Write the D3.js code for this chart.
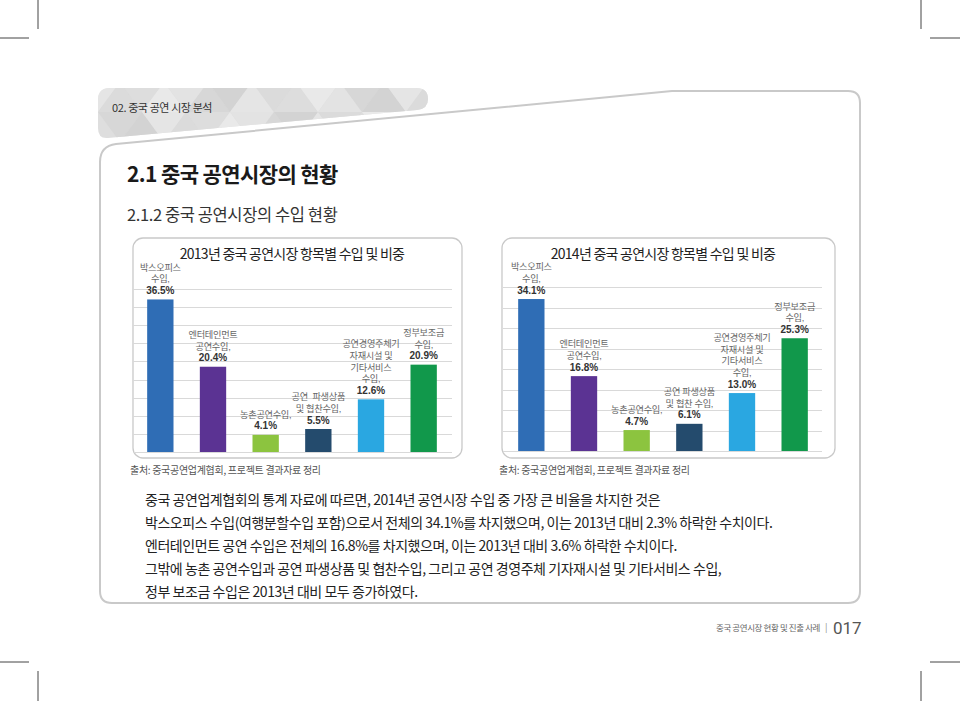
<!DOCTYPE html>
<html><head><meta charset="utf-8">
<script src="https://cdn.jsdelivr.net/npm/d3@7"></script>
<style>
html,body{margin:0;padding:0;background:#fff;}
svg{display:block;font-family:"Noto Sans CJK KR","Noto Sans",sans-serif;}
</style></head>
<body>
<svg id="page" width="960" height="701"></svg>
<script>
// ---------- data ----------
const categories = ["box","ent","rural","merch","venue","gov"];
const values2013 = [36.5, 20.4, 4.1, 5.5, 12.6, 20.9];
const values2014 = [34.1, 16.8, 4.7, 6.1, 13.0, 25.3];
const pctLabels2013 = ["36.5%","20.4%","4.1%","5.5%","12.6%","20.9%"];
const pctLabels2014 = ["34.1%","16.8%","4.7%","6.1%","13.0%","25.3%"];
const nameLines2013 = [["박스오피스","수입,"],["엔터테인먼트","공연수입,"],["농촌공연수입,"],["공연  파생상품","및 협찬수입,"],["공연경영주체기","자재시설 및","기타서비스","수입,"],["정부보조금","수입,"]];
const nameLines2014 = [["박스오피스","수입,"],["엔터테인먼트","공연수입,"],["농촌공연수입,"],["공연 파생상품","및 협찬 수입,"],["공연경영주체기","자재시설 및","기타서비스","수입,"],["정부보조금","수입,"]];
const barColors = ["#2f6db5","#5b3393","#8cc43f","#244b6d","#2aa7e1","#11984b"];
const chartTitles = ["2013년 중국 공연시장 항목별 수입 및 비중","2014년 중국 공연시장 항목별 수입 및 비중"];
const gridMax = [39, 36.8];
const gridCount = [9, 8];
const sourceText = "출처: 중국공연업계협회, 프로젝트 결과자료 정리";
const bodyLines = [
 "중국 공연업계협회의 통계 자료에 따르면, 2014년 공연시장 수입 중 가장 큰 비율을 차지한 것은",
 "박스오피스 수입(여행분할수입 포함)으로서 전체의 34.1%를 차지했으며, 이는 2013년 대비 2.3% 하락한 수치이다.",
 "엔터테인먼트 공연 수입은 전체의 16.8%를 차지했으며, 이는 2013년 대비 3.6% 하락한 수치이다.",
 "그밖에 농촌 공연수입과 공연 파생상품 및 협찬수입, 그리고 공연 경영주체 기자재시설 및 기타서비스 수입,",
 "정부 보조금 수입은 2013년 대비 모두 증가하였다."
];

const svg = d3.select("#page");

// ---------- crop marks ----------
const marks = [[38,0,38,29],[0,38,29,38],[921,0,921,29],[930,38,960,38],[0,662,29,662],[38,671,38,701],[930,662,960,662],[921,671,921,701]];
svg.append("g").selectAll("line").data(marks).join("line")
  .attr("x1",d=>d[0]).attr("y1",d=>d[1]).attr("x2",d=>d[2]).attr("y2",d=>d[3])
  .attr("stroke","#444").attr("stroke-width",1);

// ---------- banner ----------
const defs = svg.append("defs");
const bannerPath = "M110,88 L416,88 Q428,88 428,99 Q428,109 417,110 L108,138 Q98,139 98,128 L98,100 Q98,88 110,88 Z";
defs.append("clipPath").attr("id","bclip").append("path").attr("d",bannerPath);
const bg = svg.append("g");
bg.append("path").attr("d",bannerPath).attr("fill","#dedede");
const tri = bg.append("g").attr("clip-path","url(#bclip)");
const triW = 44, triH = 30;
const shades = ["#e6e6e6","#d4d4d4","#ebebeb","#d9d9d9","#d0d0d0","#e3e3e3","#dcdcdc"];
let k = 0;
for (let row = 0; row < 2; row++) {
  for (let i = -1; i < 18; i++) {
    const x0 = 98 + i*triW/2 + (row%2)*triW/2, y0 = 82 + row*triH;
    const up = (i % 2 === 0);
    const pts = up ? [[x0,y0+triH],[x0+triW/2,y0],[x0+triW,y0+triH]] : [[x0,y0],[x0+triW,y0],[x0+triW/2,y0+triH]];
    tri.append("path").attr("d","M"+pts.map(p=>p.join(",")).join("L")+"Z")
      .attr("fill",shades[(k++*3)%shades.length]).attr("opacity",0.8);
  }
}
bg.append("text").attr("x",112).attr("y",112).attr("font-size",11).attr("fill","#333")
  .attr("letter-spacing","-0.4").text("02. 중국 공연 시장 분석");

// ---------- frame ----------
svg.append("path")
  .attr("d","M100,590 L100,162 Q100,146 116,144 L672,91 L848,91 Q860,91 860,103 L860,591 Q860,603 848,603 L112,603 Q100,603 100,591 Z")
  .attr("fill","none").attr("stroke","#c9c9c9").attr("stroke-width",2);

// ---------- headings ----------
svg.append("text").attr("x",127).attr("y",182).attr("font-size",21).attr("font-weight",700)
  .attr("fill","#1a1a1a").attr("letter-spacing","-0.6").text("2.1 중국 공연시장의 현황");
svg.append("text").attr("x",127).attr("y",221).attr("font-size",16.5)
  .attr("fill","#333").attr("letter-spacing","-0.4").text("2.1.2 중국 공연시장의 수입 현황");

// ---------- charts ----------
const panels = [
  {box:[133,238,462,458], xr:[134,450], base:452, top:289, values:values2013, pct:pctLabels2013, names:nameLines2013, gx:[133,452], titleX:292},
  {box:[502,238,835,458], xr:[505,821], base:451, top:287, values:values2014, pct:pctLabels2014, names:nameLines2014, gx:[503,822], titleX:663}
];
const LH = 11.6;
panels.forEach((p,pi)=>{
  const g = svg.append("g");
  g.append("rect").attr("x",p.box[0]).attr("y",p.box[1]).attr("width",p.box[2]-p.box[0]).attr("height",p.box[3]-p.box[1])
    .attr("rx",10).attr("fill","#fff").attr("stroke","#c9c9c9").attr("stroke-width",1.3);
  const x = d3.scaleBand().domain(categories).range(p.xr).paddingInner(0.5).paddingOuter(0.25);
  const y = d3.scaleLinear().domain([0,gridMax[pi]]).range([p.base,p.top]);
  const ticks = d3.range(gridCount[pi]+1).map(i=>i*gridMax[pi]/gridCount[pi]);
  g.append("g").selectAll("line").data(ticks).join("line")
    .attr("x1",p.gx[0]).attr("x2",p.gx[1]).attr("y1",d=>Math.round(y(d))+0.5).attr("y2",d=>Math.round(y(d))+0.5)
    .attr("stroke","#d9d9d9").attr("stroke-width",1);
  g.append("g").selectAll("rect").data(p.values).join("rect")
    .attr("x",(d,i)=>x(categories[i])).attr("width",x.bandwidth())
    .attr("y",d=>y(d)).attr("height",d=>y(0)-y(d))
    .attr("fill",(d,i)=>barColors[i]);
  g.append("text").attr("x",p.titleX).attr("y",259).attr("text-anchor","middle")
    .attr("font-size",14).attr("fill","#222").attr("letter-spacing","-0.75").text(chartTitles[pi]);
  p.values.forEach((v,i)=>{
    const cx = x(categories[i]) + x.bandwidth()/2;
    const baseY = y(v) - 5.5;
    const lines = p.names[i];
    const t = g.append("text").attr("text-anchor","middle").attr("xml:space","preserve")
      .attr("font-family","'Liberation Sans','Noto Sans CJK KR',sans-serif")
      .attr("x",cx).attr("y",baseY - LH*lines.length);
    lines.forEach((s,j)=>{
      t.append("tspan").attr("x",cx).attr("dy",j===0?0:LH)
        .attr("font-size",9.2).attr("fill","#666").attr("letter-spacing","-0.3").text(s);
    });
    t.append("tspan").attr("x",cx).attr("dy",LH)
      .attr("font-size",10).attr("font-weight",700).attr("fill","#333").text(p.pct[i]);
  });
  svg.append("text").attr("x",p.box[0]-3).attr("y",474).attr("font-size",10).attr("fill","#555")
    .attr("letter-spacing","-0.3").text(sourceText);
});

// ---------- body text ----------
svg.append("g").selectAll("text").data(bodyLines).join("text")
  .attr("x",145).attr("y",(d,i)=>505+i*23).attr("font-size",14).attr("fill","#222")
  .attr("letter-spacing","-0.45").text(d=>d);

// ---------- footer ----------
svg.append("text").attr("x",820).attr("y",631).attr("text-anchor","end").attr("font-size",8.5).attr("fill","#666")
  .attr("letter-spacing","-0.4").text("중국 공연시장 현황 및 진출 사례");
svg.append("text").attr("x",825).attr("y",631).attr("font-size",9).attr("fill","#888").text("|");
svg.append("text").attr("x",833).attr("y",634).attr("font-size",17).attr("fill","#555").attr("font-family","Roboto, sans-serif").text("017");
</script>
</body></html>
